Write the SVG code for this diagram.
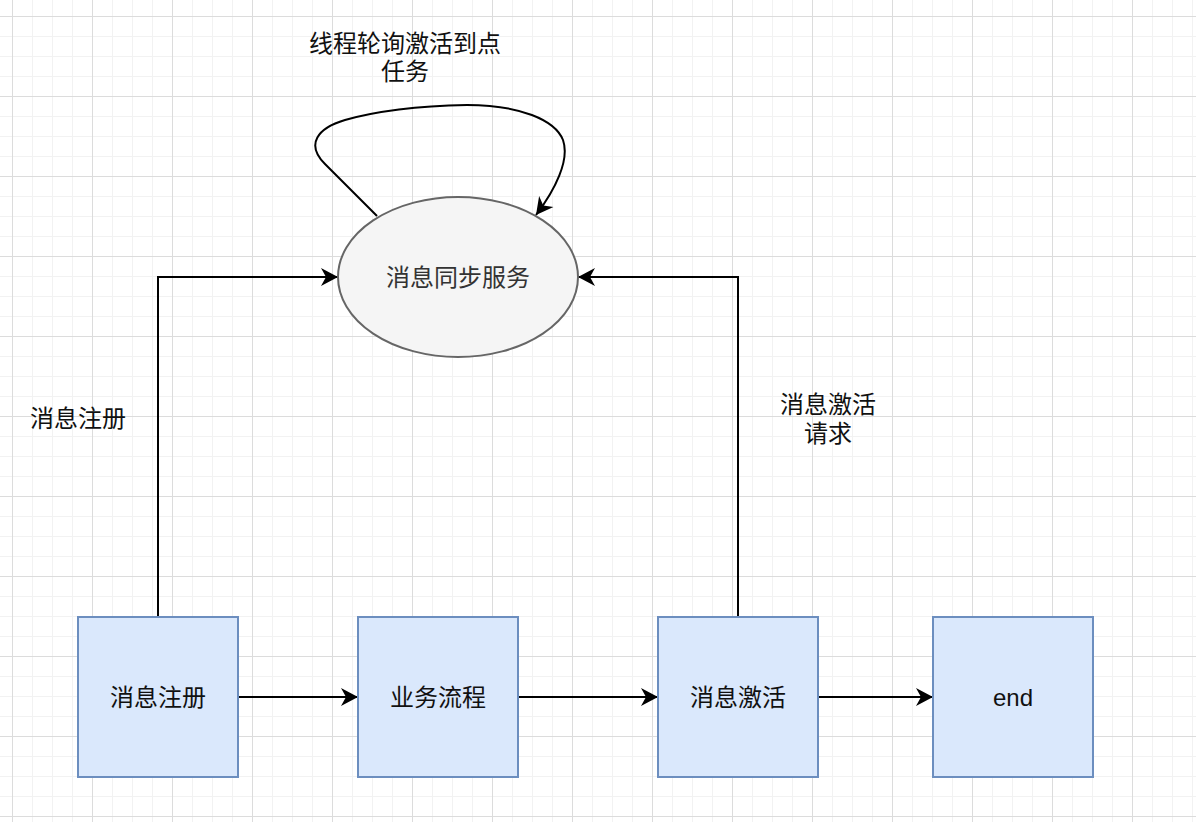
<svg xmlns="http://www.w3.org/2000/svg" width="1196" height="822" viewBox="0 0 1196 822">
<defs>
<pattern id="minor" patternUnits="userSpaceOnUse" x="12" y="16" width="20" height="20">
<path d="M0,0 H20 M0,0 V20" fill="none" stroke="#f2f2f2" stroke-width="2"/>
</pattern>
<pattern id="major" patternUnits="userSpaceOnUse" x="12" y="16" width="80" height="80">
<path d="M0,0 H80 M0,0 V80" fill="none" stroke="#dcdcdc" stroke-width="2"/>
</pattern>
<marker id="arr" markerUnits="userSpaceOnUse" markerWidth="20" markerHeight="20" viewBox="-18 -10 20 20" refX="0" refY="0" orient="auto">
<path d="M0,0 L-17,-9 L-12,0 L-17,9 Z" fill="#000"/>
</marker>
<style>
.box{fill:#dae8fc;stroke:#6c8ebf;stroke-width:2}
.ell{fill:#f5f5f5;stroke:#666;stroke-width:2}
.t{font-family:"Liberation Sans","Noto Sans CJK SC",sans-serif;font-size:24px;fill:#111;text-anchor:middle;dominant-baseline:central}
.c{fill:none;stroke:#000;stroke-width:2;marker-end:url(#arr)}
</style>
</defs>
<rect width="1196" height="822" fill="#fff"/>
<rect width="1196" height="822" fill="url(#minor)"/>
<rect width="1196" height="822" fill="url(#major)"/>

<g id="connectors">
<path class="c" d="M158,617 V277 H338"/>
<path class="c" d="M738,617 V277 H578"/>
<path class="c" d="M238,697 H358"/>
<path class="c" d="M518,697 H658"/>
<path class="c" d="M818,697 H933"/>
<path class="c" d="M377,216 L325,164 C305,144 318,128 345,120 C380,110 420,106 467,105 C520,105 555,120 563,140 C570,160 555,190 536,215"/>
</g>

<g id="sync-service">
<ellipse class="ell" cx="458" cy="277" rx="120" ry="80"/>
<text class="t" x="458" y="277" style="fill:#333">消息同步服务</text>
</g>
<g id="node-register">
<rect class="box" x="78" y="617" width="160" height="160"/>
<text class="t" x="158" y="697">消息注册</text>
</g>
<g id="node-business">
<rect class="box" x="358" y="617" width="160" height="160"/>
<text class="t" x="438" y="697">业务流程</text>
</g>
<g id="node-activate">
<rect class="box" x="658" y="617" width="160" height="160"/>
<text class="t" x="738" y="697">消息激活</text>
</g>
<g id="node-end">
<rect class="box" x="933" y="617" width="160" height="160"/>
<text class="t" x="1013" y="697">end</text>
</g>

<g id="labels">
<text class="t" x="405" y="43">线程轮询激活到点</text>
<text class="t" x="405" y="71">任务</text>
<text class="t" x="78" y="418">消息注册</text>
<text class="t" x="828" y="404">消息激活</text>
<text class="t" x="828" y="433">请求</text>
</g>
</svg>
